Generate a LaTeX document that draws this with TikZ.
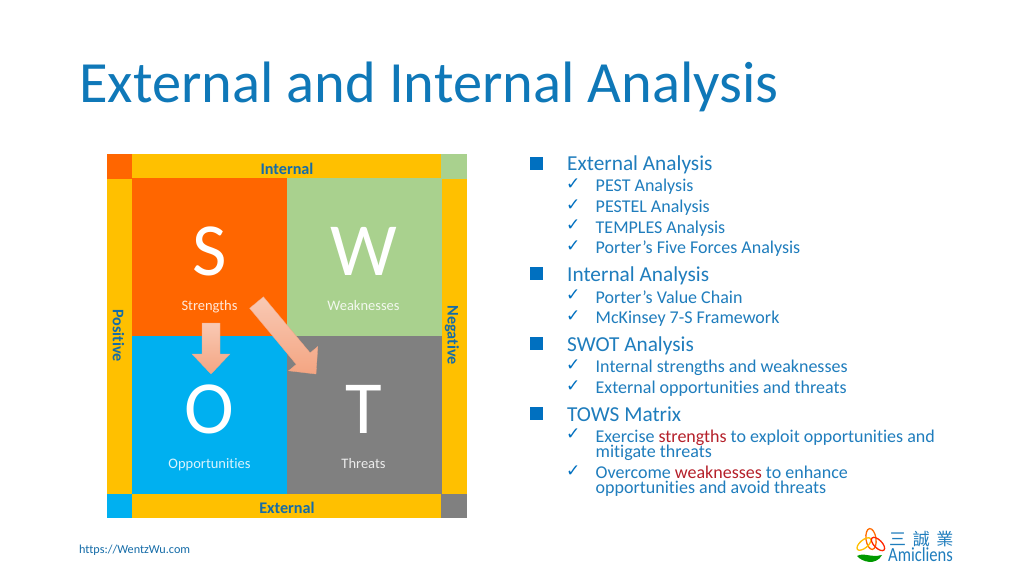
\documentclass[tikz,border=0pt]{standalone}
\usepackage{fontspec}
\setmainfont[Ligatures=NoCommon]{Carlito}
\newfontfamily\tickfont{DejaVu Sans}
\newfontfamily\cjkfont{Noto Sans CJK TC}
\usetikzlibrary{calc}
\definecolor{titleblue}{HTML}{0F78B8}
\definecolor{listblue}{HTML}{1F7DBD}
\definecolor{bandblue}{HTML}{156CA8}
\definecolor{squareblue}{HTML}{0070C0}
\definecolor{listred}{HTML}{B5202A}
\definecolor{bandyellow}{HTML}{FFC000}
\definecolor{swotorange}{HTML}{FF6600}
\definecolor{swotgreen}{HTML}{A9D18E}
\definecolor{swotcyan}{HTML}{00B0F0}
\definecolor{swotgray}{HTML}{808080}
\definecolor{arrowsalmon}{HTML}{F4A582}
\tikzset{
    cell/.style={fill=#1, inner sep=0pt, minimum width=155, minimum height=158},
    band/.style={fill=bandyellow, inner sep=0pt},
    corner/.style={fill=#1, inner sep=0pt, minimum width=25, minimum height=24.5},
    bandtext/.style={text=bandblue, font=\fontsize{16.2}{18}\selectfont\bfseries, inner sep=0pt},
    letter/.style={text=white, anchor=base, inner sep=0pt, font=\fontsize{75}{80}\selectfont},
    caption/.style={text=white, anchor=base, inner sep=0pt, opacity=.85, font=\fontsize{14.5}{16}\selectfont},
    levelone/.style={text=listblue, anchor=base west, inner sep=0pt, font=\fontsize{21.3}{23}\selectfont},
    leveltwo/.style={text=listblue, anchor=base west, inner sep=0pt, font=\fontsize{18}{20}\selectfont},
    square/.style={fill=squareblue, inner sep=0pt, minimum size=13},
    tick/.style={text=squareblue, anchor=base west, inner sep=0pt, font=\tickfont\fontsize{17}{19}\selectfont},
    petal/.style={draw=#1, line width=1.3pt, fill=none},
    blockarrow/.style={top color=#1!60!white, bottom color=#1, draw=#1, line width=.3pt},
    blockline/.style={to path={
        ($(\tikztostart)!9pt!90:(\tikztotarget)$)
        -- ($($(\tikztotarget)!20pt!(\tikztostart)$)!9pt!90:(\tikztotarget)$)
        -- ($($(\tikztotarget)!20pt!(\tikztostart)$)!19pt!90:(\tikztotarget)$)
        -- (\tikztotarget)
        -- ($($(\tikztotarget)!20pt!(\tikztostart)$)!19pt!-90:(\tikztotarget)$)
        -- ($($(\tikztotarget)!20pt!(\tikztostart)$)!9pt!-90:(\tikztotarget)$)
        -- ($(\tikztostart)!9pt!-90:(\tikztotarget)$) -- cycle}}
}
\begin{document}
\begin{tikzpicture}[x=1pt, y=-1pt]
    \useasboundingbox (0,0) rectangle (1024,576);
    \fill[white] (0,0) rectangle (1024,576);
    % Title
    \node[text=titleblue, anchor=base west, inner sep=0pt, font=\fontsize{58.4}{62}\selectfont] (title) at (79,102) {External and Internal Analysis};
    % Outer bands
    \node[band, minimum width=309, minimum height=24.5] (bandTop) at (286.5,166.25) {};
    \node[band, minimum width=309, minimum height=24.5] (bandBottom) at (286.5,505.75) {};
    \node[band, minimum width=25, minimum height=315] (bandLeft) at (119.5,336) {};
    \node[band, minimum width=26, minimum height=315] (bandRight) at (454,336) {};
    \node[corner=swotorange] (cornerS) at (119.5,166.25) {};
    \node[corner=swotgreen, minimum width=26] (cornerW) at (454,166.25) {};
    \node[corner=swotcyan] (cornerO) at (119.5,505.75) {};
    \node[corner=swotgray, minimum width=26] (cornerT) at (454,505.75) {};
    \node[bandtext] (internal) at (287,168.5) {Internal};
    \node[bandtext] (external) at (287,507.5) {External};
    \node[bandtext, rotate=-90] (positive) at (118.5,335.5) {Positive};
    \node[bandtext, rotate=-90] (negative) at (452,335) {Negative};
    % Matrix
    \node[cell=swotorange] (cellS) at (209.5,257.25) {};
    \node[cell=swotgreen] (cellW) at (364,257.25) {};
    \node[cell=swotcyan] (cellO) at (209.5,414.75) {};
    \node[cell=swotgray] (cellT) at (364,414.75) {};
    \node[letter] (letterS) at (209.5,275) {S};
    \node[letter] (letterW) at (363.5,275) {W};
    \node[letter] (letterO) at (209.5,433) {O};
    \node[letter] (letterT) at (363.5,433) {T};
    \node[caption] (captionS) at (209.5,310.5) {Strengths};
    \node[caption] (captionW) at (363.5,310.5) {Weaknesses};
    \node[caption] (captionO) at (209.5,468) {Opportunities};
    \node[caption] (captionT) at (363.5,468) {Threats};
    % Arrows
    \coordinate (arrowOneTail) at (211,323);
    \coordinate (arrowOneTip) at (211,374);
    \coordinate (arrowTwoTail) at (256.5,302.5);
    \coordinate (arrowTwoTip) at (316,374);
    \path[blockarrow=arrowsalmon, blockline] (arrowOneTail) to (arrowOneTip);
    \path[blockarrow=arrowsalmon, blockline] (arrowTwoTail) to (arrowTwoTip);
    % Level 1
    \node[square] (squareExt) at (536,163) {};
    \node[square] (squareInt) at (536,273) {};
    \node[square] (squareSwot) at (536,343) {};
    \node[square] (squareTows) at (536,413) {};
    \node[levelone] (extAnalysis) at (567,170.5) {External Analysis};
    \node[levelone] (intAnalysis) at (567,281) {Internal Analysis};
    \node[levelone] (swotAnalysis) at (567,351.5) {SWOT Analysis};
    \node[levelone] (towsMatrix) at (567,421) {TOWS Matrix};
    % Level 2
    \foreach \y in {189,210,230,251,300,321,370,391,439,476}
        \node[tick] (tick\y) at (566,\y) {✓};
    \node[leveltwo] (pest) at (595.5,191) {PEST Analysis};
    \node[leveltwo] (pestel) at (595.5,212) {PESTEL Analysis};
    \node[leveltwo] (temples) at (595.5,233) {TEMPLES Analysis};
    \node[leveltwo] (porterFive) at (595.5,253) {Porter’s Five Forces Analysis};
    \node[leveltwo] (porterValue) at (595.5,303) {Porter’s Value Chain};
    \node[leveltwo] (mckinsey) at (595.5,323) {McKinsey 7-S Framework};
    \node[leveltwo] (swotInt) at (595.5,372) {Internal strengths and weaknesses};
    \node[leveltwo] (swotExt) at (595.5,393) {External opportunities and threats};
    \node[leveltwo] (towsOne) at (595.5,442) {Exercise \textcolor{listred}{strengths} to exploit opportunities and};
    \node[leveltwo] (towsOneMore) at (595.5,457.5) {mitigate threats};
    \node[leveltwo] (towsTwo) at (595.5,478) {Overcome \textcolor{listred}{weaknesses} to enhance};
    \node[leveltwo] (towsTwoMore) at (595.5,493) {opportunities and avoid threats};
    % Footer
    \node[text=bandblue, anchor=base west, inner sep=0pt, font=\fontsize{12.2}{14}\selectfont] (website) at (79,553) {https://WentzWu.com};
    % Logo
    \draw[petal=orange!85!red, rotate around={8:(871,539)}] (871,539) ellipse (5 and 10.5);
    \draw[petal=bandyellow, rotate around={-50:(864,544)}] (864,544) ellipse (4 and 8.5);
    \draw[petal=red!70!orange, rotate around={45:(878,544)}] (878,544) ellipse (4 and 8.5);
    \fill[green!60!black] (857,556) .. controls (864,552) and (870,558) .. (882,555) .. controls (876,566) and (862,562) .. (857,556);
    \node[text=listblue, anchor=base west, inner sep=0pt, font=\cjkfont\fontsize{17}{19}\selectfont] (logoCjk) at (889,545) {三 \,誠 \,業};
    \node[text=listblue, anchor=base west, inner sep=0pt, font=\fontsize{20}{22}\selectfont, transform shape, xscale=.83] (logoName) at (888,561) {Amicliens};
\end{tikzpicture}
\end{document}
